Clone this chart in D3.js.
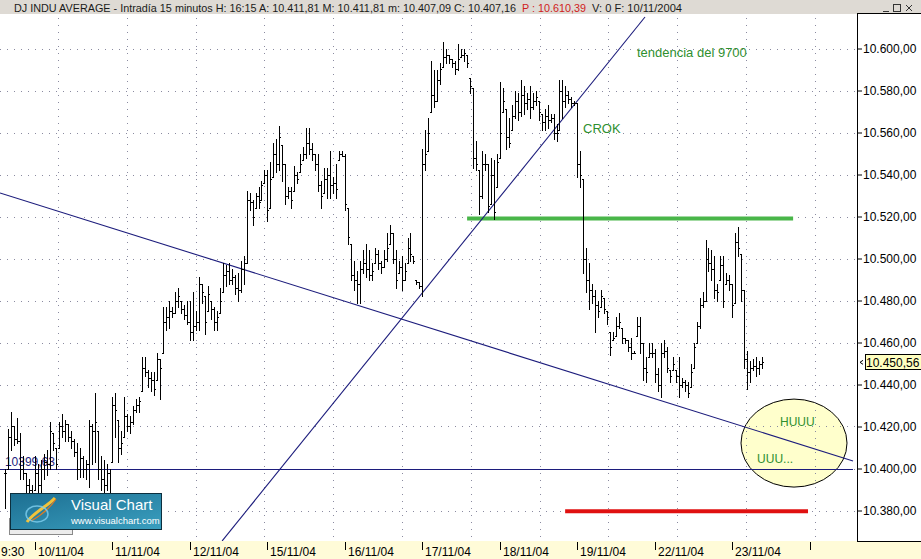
<!DOCTYPE html>
<html><head><meta charset="utf-8">
<script src="https://cdnjs.cloudflare.com/ajax/libs/d3/7.8.5/d3.min.js"></script>
<style>
body{margin:0;background:#fff;}
svg{display:block;font-family:"Liberation Sans",Arial,sans-serif;}
</style>
</head><body>
<svg id="c" width="921" height="559"></svg>
<script>
// ---- DATA (15-minute bars, DJ INDU AVERAGE) ----
const highs = [10400,10419,10427,10420,10424,10417,10406,10398,10395,10392,
10406,10402,10404,10407,10409,10422,10417,10410,10422,10426,10423,10421,10418,10414,10412,10410,10406,10404,10423,10421,10436,10418,10406,10404,10402,10400,
10434,10436,10423,10418,10434,10426,10425,10430,10433,10434,10453,10453,10447,10446,10446,10455,10452,10477,10477,10480,10477,10484,10486,10480,10478,10480,
10480,10484,10475,10491,10488,10482,10487,10480,10477,10475,10486,10498,10497,10498,10495,10492,10493,10499,10501,10532,10531,10528,10531,10534,10537,10542,
10542,10546,10555,10557,10563,10554,10545,10534,10534,10544,10541,10550,10553,10562,10562,10555,10550,10550,10537,10543,10543,10551,10539,10545,10551,10551,
10550,10524,10507,10499,10494,10499,10504,10507,10504,10498,10505,10504,10499,10504,10512,10516,10512,10504,10499,10501,10498,10510,10512,10501,10490,10489,
10552,10561,10567,10594,10590,10590,10593,10603,10600,10597,10595,10594,10602,10600,10600,10597,10586,10581,10556,10542,10551,10550,10545,10548,10547,10550,
10584,10581,10571,10567,10573,10580,10579,10585,10582,10579,10582,10579,10580,10575,10569,10571,10573,10569,10569,10564,10585,10585,10582,10580,10577,10575,
10574,10551,10538,10505,10498,10488,10485,10480,10485,10481,10475,10465,10465,10472,10474,10467,10462,10461,10462,10456,10472,10472,10460,10453,10460,10460,
10457,10448,10460,10461,10458,10447,10453,10447,10453,10443,10442,10441,10450,10460,10470,10481,10484,10509,10505,10504,10501,10488,10501,10501,10493,10492,
10488,10512,10515,10502,10485,10456,10451,10452,10453,10451,10453];
const lows = [10381,10400,10409,10411,10412,10395,10395,10389,10385,10382,
10390,10388,10387,10395,10397,10400,10409,10400,10410,10415,10413,10413,10410,10406,10395,10396,10396,10395,10391,10402,10403,10395,10390,10385,10390,10381,
10403,10415,10403,10407,10415,10418,10417,10421,10427,10427,10437,10444,10439,10437,10435,10442,10433,10455,10466,10467,10472,10474,10477,10474,10471,10469,
10461,10461,10466,10466,10479,10464,10475,10471,10466,10466,10474,10484,10487,10488,10488,10483,10480,10484,10488,10498,10523,10516,10524,10524,10528,10536,
10518,10524,10539,10541,10542,10537,10526,10529,10524,10532,10536,10541,10547,10548,10550,10547,10542,10532,10524,10531,10529,10529,10531,10529,10547,10549,
10523,10507,10490,10485,10479,10479,10493,10491,10490,10490,10498,10495,10493,10496,10499,10507,10498,10486,10493,10485,10490,10498,10499,10498,10488,10486,
10482,10542,10551,10570,10572,10575,10583,10591,10593,10593,10591,10588,10590,10596,10594,10591,10579,10543,10542,10521,10529,10542,10522,10526,10519,10534,
10548,10570,10552,10553,10561,10567,10566,10568,10569,10571,10567,10571,10573,10566,10561,10561,10562,10565,10557,10556,10561,10567,10572,10574,10572,10573,
10539,10534,10493,10484,10476,10479,10465,10472,10477,10474,10469,10454,10461,10463,10467,10460,10460,10456,10452,10455,10463,10455,10442,10441,10453,10453,
10441,10437,10434,10453,10446,10441,10447,10441,10434,10439,10437,10434,10439,10448,10460,10467,10477,10480,10494,10490,10481,10480,10490,10477,10488,10485,
10472,10479,10501,10480,10448,10438,10441,10447,10444,10445,10448];
const closes = [10398,10415,10420,10414,10413,10400,10398,10392,10390,10386,
10398,10392,10400,10403,10402,10418,10412,10402,10420,10418,10421,10415,10413,10408,10400,10405,10400,10402,10420,10418,10422,10400,10395,10392,10398,10385,
10430,10428,10410,10412,10425,10420,10422,10428,10430,10432,10448,10446,10443,10442,10438,10452,10448,10470,10472,10475,10474,10480,10482,10476,10473,10470,
10465,10468,10470,10488,10484,10470,10483,10476,10470,10472,10480,10492,10494,10490,10491,10486,10485,10495,10498,10528,10527,10520,10530,10527,10535,10540,
10523,10538,10550,10545,10558,10545,10530,10532,10528,10540,10538,10545,10550,10555,10552,10550,10545,10535,10530,10538,10540,10535,10536,10533,10550,10549,
10526,10510,10492,10490,10488,10495,10498,10495,10492,10494,10502,10498,10496,10500,10505,10512,10500,10490,10496,10490,10494,10505,10502,10499,10489,10487,
10545,10550,10560,10578,10575,10585,10590,10596,10597,10595,10593,10590,10595,10597,10598,10593,10582,10548,10545,10530,10545,10545,10525,10540,10522,10546,
10560,10575,10558,10555,10568,10575,10570,10578,10574,10576,10572,10575,10577,10570,10565,10568,10566,10567,10560,10560,10580,10575,10578,10576,10574,10574,
10545,10540,10500,10490,10485,10482,10478,10475,10482,10476,10472,10458,10462,10468,10470,10462,10461,10458,10455,10455,10468,10460,10448,10446,10455,10455,
10445,10440,10455,10456,10448,10444,10450,10444,10440,10441,10440,10436,10446,10458,10468,10478,10480,10500,10498,10495,10485,10484,10497,10480,10490,10488,
10478,10508,10505,10485,10452,10446,10448,10449,10448,10450,10450.56];
const dayLabels = ["10/11/04","11/11/04","12/11/04","15/11/04","16/11/04","17/11/04","18/11/04","19/11/04","22/11/04","23/11/04",""];
const dayStarts = [10,36,62,88,114,140,166,192,218,244,270];
const firstLabel = "9:30";
const priceTicks = [10380,10400,10420,10440,10460,10480,10500,10520,10540,10560,10580,10600];
const lastPrice = 10450.56;
const supportLevel = 10399.63;
const greenLevel = {from:155, to:264.4, price:10519};
const redLevel = {from:187.9, to:269.4, price:10379.6};
const downTrend = [{i:-1.75,p:10531.2},{i:284.5,p:10403.6}];
const upTrend = [{i:72.8,p:10365.5},{i:214.7,p:10615}];
const notes = [
  {t:"tendencia del 9700", i:212, p:10596, size:13},
  {t:"CROK", i:193.9, p:10559.8, size:13},
  {t:"HUUU", i:260, p:10420.2, size:12},
  {t:"UUU...", i:252.3, p:10402.6, size:12}
];
const bubble = {i:264.7, p:10412.1};

// ---- LAYOUT ----
const svg = d3.select("#c");
const W=921, H=559, plotL=0, plotR=857, plotT=14, plotB=541;
const x = d3.scaleLinear().domain([0, 254]).range([5.2, 5.2+254*2.98]);
const y = d3.scaleLinear().domain([10380, 10600]).range([510.5, 48.5]);

// backgrounds
svg.append("rect").attr("x",0).attr("y",0).attr("width",W).attr("height",H).attr("fill","#fff");
svg.append("rect").attr("x",0).attr("y",plotB).attr("width",W).attr("height",H-plotB).attr("fill","#fffbd8");
svg.append("rect").attr("x",0).attr("y",0).attr("width",W).attr("height",plotT).attr("fill","#dedad4");

const defs = svg.append("defs");
defs.append("clipPath").attr("id","plotclip").append("rect")
  .attr("x",plotL).attr("y",plotT).attr("width",plotR-plotL).attr("height",plotB-plotT);
const lg = defs.append("linearGradient").attr("id","logoG").attr("x1","0").attr("x2","1").attr("y1","0").attr("y2","1");
lg.append("stop").attr("offset","0").attr("stop-color","#1d6f92");
lg.append("stop").attr("offset","1").attr("stop-color","#3a9fbf");

const plot = svg.append("g").attr("clip-path","url(#plotclip)");

// ellipse callout (behind grid/lines)
plot.append("ellipse").attr("cx",x(bubble.i)).attr("cy",y(bubble.p)).attr("rx",53).attr("ry",44)
  .attr("fill","#ffffcc").attr("stroke","#000").attr("stroke-width",1);

// grid
const gridColor = "#8a8aa0";
plot.append("g").selectAll("line").data(priceTicks).join("line")
  .attr("x1",plotL).attr("x2",plotR).attr("y1",d=>Math.round(y(d))+0.5).attr("y2",d=>Math.round(y(d))+0.5)
  .attr("stroke",gridColor).attr("stroke-dasharray","1,6");
const vGrid = d3.range(12).map(k=>17.7+23.09*k);
plot.append("g").selectAll("line").data(vGrid).join("line")
  .attr("x1",d=>Math.round(x(d))+0.5).attr("x2",d=>Math.round(x(d))+0.5).attr("y1",plotT+4).attr("y2",plotB)
  .attr("stroke",gridColor).attr("stroke-dasharray","1,6");

// horizontal levels
plot.append("line").attr("x1",x(downTrend[0].i)).attr("x2",x(downTrend[1].i))
  .attr("y1",Math.round(y(supportLevel))+0.5).attr("y2",Math.round(y(supportLevel))+0.5)
  .attr("stroke","#1c1c7c").attr("stroke-width",1);
plot.append("text").attr("x",x(-0.1)).attr("y",y(supportLevel)-3).text("10399,63")
  .attr("font-size",12).attr("fill","#1c1c7c");
plot.append("line").attr("x1",x(greenLevel.from)).attr("x2",x(greenLevel.to))
  .attr("y1",y(greenLevel.price)).attr("y2",y(greenLevel.price))
  .attr("stroke","#49b649").attr("stroke-width",4);
plot.append("line").attr("x1",x(redLevel.from)).attr("x2",x(redLevel.to))
  .attr("y1",y(redLevel.price)).attr("y2",y(redLevel.price))
  .attr("stroke","#e01010").attr("stroke-width",4);

// trend lines
const tl = d3.line().x(d=>x(d.i)).y(d=>y(d.p));
plot.append("path").attr("d",tl(downTrend)).attr("fill","none").attr("stroke","#1c1c7c").attr("stroke-width",1.1);
plot.append("path").attr("d",tl(upTrend)).attr("fill","none").attr("stroke","#1c1c7c").attr("stroke-width",1.1);

// OHLC bars
const bars = highs.map((h,i)=>{
  const prev = i>0 ? closes[i-1] : closes[0];
  return {i, h, l:lows[i], c:closes[i], o:Math.max(lows[i], Math.min(h, prev))};
});
const bg = plot.append("g").attr("stroke","#000").attr("stroke-width",1).attr("shape-rendering","crispEdges");
bars.forEach(b=>{
  const cx = Math.round(x(b.i))+0.5;
  bg.append("line").attr("x1",cx).attr("x2",cx).attr("y1",y(b.h)).attr("y2",y(b.l)+1);
  bg.append("line").attr("x1",cx-1.5).attr("x2",cx).attr("y1",Math.round(y(b.o))+0.5).attr("y2",Math.round(y(b.o))+0.5);
  bg.append("line").attr("x1",cx).attr("x2",cx+1.5).attr("y1",Math.round(y(b.c))+0.5).attr("y2",Math.round(y(b.c))+0.5);
});

// annotations
notes.forEach(n=>{
  plot.append("text").attr("x",x(n.i)).attr("y",y(n.p)).text(n.t)
    .attr("font-size",n.size).attr("fill","#2f8f2f");
});

// logo
const lgG = svg.append("g");
lgG.append("rect").attr("x",9.5).attr("y",518.5).attr("width",63).attr("height",16).attr("fill","#ececec").attr("stroke","#8a8a8a");
lgG.append("rect").attr("x",10.5).attr("y",493.5).attr("width",151).attr("height",36).attr("fill","url(#logoG)").attr("stroke","#0c2f3e");
lgG.append("path").attr("d","M27,522 C34,512 48,506 55,498").attr("fill","none").attr("stroke","#f2c33a").attr("stroke-width",3);
lgG.append("path").attr("d","M31,521 C40,516 50,508 56,499").attr("fill","none").attr("stroke","#e07a20").attr("stroke-width",1.2);
lgG.append("ellipse").attr("cx",37).attr("cy",514).attr("rx",11).attr("ry",8).attr("fill","none").attr("stroke","#7fd0f0").attr("stroke-width",1.5).attr("opacity",0.8);
lgG.append("text").attr("x",71).attr("y",510).text("Visual Chart").attr("font-size",15).attr("fill","#fff");
lgG.append("text").attr("x",71).attr("y",524).text("www.visualchart.com").attr("font-size",9.5).attr("fill","#fff");

// right axis panel
svg.append("line").attr("x1",plotR+0.5).attr("x2",plotR+0.5).attr("y1",plotT-1).attr("y2",plotB).attr("stroke","#000");
svg.append("line").attr("x1",plotR).attr("x2",W).attr("y1",plotT-0.5).attr("y2",plotT-0.5).attr("stroke","#000");
svg.append("line").attr("x1",plotR).attr("x2",W).attr("y1",plotB+0.5).attr("y2",plotB+0.5).attr("stroke","#000");
const yAxis = d3.axisRight(y).tickValues(priceTicks).tickSize(5).tickPadding(1)
  .tickFormat(d=>d3.format(",.2f")(d).replace(/,/g,"#").replace(".",",").replace("#","."));
const ya = svg.append("g").attr("transform",`translate(${plotR},0)`).call(yAxis);
ya.select(".domain").remove();
ya.selectAll("text").attr("font-size",12).attr("font-family","Liberation Sans, Arial").attr("fill","#000");
ya.selectAll("line").attr("stroke","#000");

// last price marker
const lpY = y(lastPrice);
svg.append("rect").attr("x",865.5).attr("y",Math.round(lpY)-7.5).attr("width",56).attr("height",15).attr("fill","#ffffc0").attr("stroke","#000");
svg.append("text").attr("x",866).attr("y",lpY+4.5).text(d3.format(",.2f")(lastPrice).replace(/,/g,"#").replace(".",",").replace("#","."))
  .attr("font-size",12).attr("fill","#000");
svg.append("path").attr("d",`M863,${lpY-2} L860,${lpY} L863,${lpY+2}`).attr("fill","none").attr("stroke","#000");

// bottom date axis
const xa = svg.append("g");
xa.selectAll("line").data(dayStarts).join("line")
  .attr("x1",d=>Math.round(x(d))+0.5).attr("x2",d=>Math.round(x(d))+0.5).attr("y1",plotB+1).attr("y2",plotB+9)
  .attr("stroke","#000");
xa.selectAll("text").data(dayStarts).join("text")
  .attr("x",d=>Math.round(x(d))+3).attr("y",556).text((d,k)=>dayLabels[k])
  .attr("font-size",12).attr("fill","#000");
svg.append("text").attr("x",1).attr("y",556).text(firstLabel).attr("font-size",12).attr("fill","#000");

// title bar
const tt = svg.append("g").attr("font-size",11).attr("fill","#1a1a1a");
tt.append("text").attr("x",14).attr("y",11.5).attr("textLength",502).attr("lengthAdjust","spacingAndGlyphs")
  .text("DJ INDU AVERAGE - Intradía 15 minutos  H: 16:15  A: 10.411,81  M: 10.411,81  m: 10.407,09  C: 10.407,16");
tt.append("text").attr("x",522).attr("y",11.5).attr("fill","#d02020").attr("textLength",64).attr("lengthAdjust","spacingAndGlyphs").text("P : 10.610,39");
tt.append("text").attr("x",592).attr("y",11.5).attr("textLength",90).attr("lengthAdjust","spacingAndGlyphs").text("V: 0  F: 10/11/2004");
// window buttons
const wb = svg.append("g").attr("stroke","#333").attr("fill","none").attr("shape-rendering","crispEdges");
wb.append("line").attr("x1",883).attr("x2",889).attr("y1",11.5).attr("y2",11.5);
wb.append("rect").attr("x",893.5).attr("y",4.5).attr("width",7).attr("height",7);
wb.append("line").attr("x1",894).attr("x2",900).attr("y1",4.5).attr("y2",4.5);
wb.append("path").attr("d","M906,5 L912,11 M912,5 L906,11").attr("shape-rendering","auto");
</script>
</body></html>
